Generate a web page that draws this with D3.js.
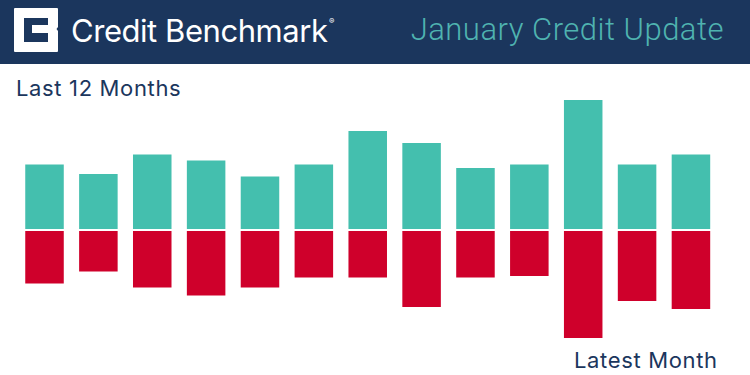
<!DOCTYPE html>
<html>
<head>
<meta charset="utf-8">
<script src="https://cdn.jsdelivr.net/npm/d3@7"></script>
<style>
  html, body { margin: 0; padding: 0; background: #fff; }
  svg { display: block; }
</style>
</head>
<body>
<svg id="chart" width="750" height="375"></svg>
<script>
// one entry per month, oldest first (month names are not shown in the picture)
var months = ['m1', 'm2', 'm3', 'm4', 'm5', 'm6', 'm7', 'm8', 'm9', 'm10', 'm11', 'm12', 'm13'];
// arbitrary units
var upgrades = [64.5, 55, 74.5, 68.5, 52.5, 64.5, 98, 86, 61, 64.5, 129, 64.5, 74.5];
var downgrades = [52.5, 40.5, 56.5, 64.5, 56.5, 46.5, 46.5, 76, 46.5, 45, 107, 70, 78];

var svg = d3.select('#chart');

var navy = '#1b365d';
var teal = '#44bfae';
var red = '#cf002b';

// header band
svg.append('rect')
    .attr('width', 750)
    .attr('height', 64)
    .attr('fill', navy);

// logo
var logo = svg.append('g').attr('transform', 'translate(14, 8)');
logo.append('path')
    .attr('d', 'M1 0H43Q44 0 44 1V19L42.5 21L44 23V43Q44 44 43 44H1Q0 44 0 43V1Q0 0 1 0Z')
    .attr('fill', '#fff');
logo.append('path')
    .attr('d', 'M10 10H34V17H18V25H34V34H10Z')
    .attr('fill', navy);

svg.append('text')
    .attr('x', 71)
    .attr('y', 41.5)
    .attr('font-family', 'Inter')
    .attr('font-size', 31)
    .attr('letter-spacing', -0.45)
    .attr('fill', '#fff')
    .text('Credit Benchmark');

svg.append('text')
    .attr('x', 329)
    .attr('y', 24)
    .attr('font-family', 'Inter')
    .attr('font-size', 8)
    .attr('fill', '#fff')
    .text('®');

svg.append('text')
    .attr('x', 724)
    .attr('y', 40)
    .attr('text-anchor', 'end')
    .attr('font-family', 'Roboto')
    .attr('font-weight', 300)
    .attr('font-size', 31)
    .attr('letter-spacing', 0.5)
    .attr('fill', '#4fb3b0')
    .text('January Credit Update');

// scales
var x_scale = d3.scaleBand()
    .domain(months)
    .range([25.25, 710.2])
    .paddingInner(0.285)
    .paddingOuter(0);

var y_up = d3.scaleLinear()
    .domain([0, 129])
    .range([229, 100]);

var y_down = d3.scaleLinear()
    .domain([0, 107])
    .range([231, 338]);

svg.selectAll('.up')
    .data(upgrades)
    .enter().append('rect')
    .attr('class', 'up')
    .attr('x', function(d, i) { return x_scale(months[i]); })
    .attr('y', function(d) { return y_up(d); })
    .attr('width', x_scale.bandwidth())
    .attr('height', function(d) { return y_up(0) - y_up(d); })
    .attr('fill', teal);

svg.selectAll('.down')
    .data(downgrades)
    .enter().append('rect')
    .attr('class', 'down')
    .attr('x', function(d, i) { return x_scale(months[i]); })
    .attr('y', y_down(0))
    .attr('width', x_scale.bandwidth())
    .attr('height', function(d) { return y_down(d) - y_down(0); })
    .attr('fill', red);

// labels
svg.append('text')
    .attr('x', 16)
    .attr('y', 95.5)
    .attr('font-family', 'Inter')
    .attr('font-size', 22)
    .attr('letter-spacing', 0.65)
    .attr('fill', navy)
    .text('Last 12 Months');

svg.append('text')
    .attr('x', 574)
    .attr('y', 367.5)
    .attr('font-family', 'Inter')
    .attr('font-size', 22)
    .attr('letter-spacing', 0.65)
    .attr('fill', navy)
    .text('Latest Month');
</script>
</body>
</html>
